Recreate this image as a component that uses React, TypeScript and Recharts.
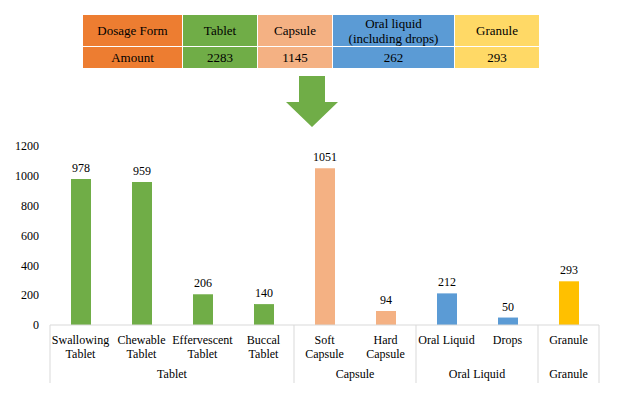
import { BarChart, Bar, XAxis, YAxis, Cell, LabelList } from "recharts";

const tableHeaders = ["Dosage Form", "Tablet", "Capsule", "Oral liquid\n(including drops)", "Granule"];
const tableAmounts = ["Amount", "2283", "1145", "262", "293"];
const tableColors = ["#ED7D31", "#70AD47", "#F4B183", "#5B9BD5", "#FFD966"];

const categories = [
  "Swallowing\nTablet",
  "Chewable\nTablet",
  "Effervescent\nTablet",
  "Buccal\nTablet",
  "Soft\nCapsule",
  "Hard\nCapsule",
  "Oral Liquid",
  "Drops",
  "Granule",
];
const counts = [978, 959, 206, 140, 1051, 94, 212, 50, 293];
const groups = ["Tablet", "Tablet", "Tablet", "Tablet", "Capsule", "Capsule", "Oral Liquid", "Oral Liquid", "Granule"];
const groupColors: Record<string, string> = {
  Tablet: "#70AD47",
  Capsule: "#F4B183",
  "Oral Liquid": "#5B9BD5",
  Granule: "#FFC000",
};
const yTicks = [0, 200, 400, 600, 800, 1000, 1200];

const data = categories.map((name, i) => ({ name, value: counts[i], group: groups[i] }));

const W = 618;
const H = 398;
const X_H = 73;
const Y_W = 50;
const M = { top: 146, right: 19, bottom: 0, left: 0 };
const BAND = (W - M.left - M.right - Y_W) / categories.length;
const FONT = "Liberation Serif";
const GRID = "#d9d9d9";

// table column edges in px
const colEdges = [83, 183, 258, 333, 455, 540];

function CategoryTick(props: any) {
  const { x, y, payload } = props;
  const i = payload.index;
  const lines = String(payload.value).split("\n");
  const g = groups[i];
  const isFirst = i === 0 || groups[i - 1] !== g;
  const isLast = i === groups.length - 1;
  let span = 0;
  if (isFirst) {
    while (groups[i + span] === g) span++;
  }
  return (
    <g>
      {lines.map((t, k) => (
        <text key={k} x={x} y={y + 19 + k * 14} textAnchor="middle" fontSize={12} fontFamily={FONT} fill="#000">
          {t}
        </text>
      ))}
      {isFirst && (
        <>
          <line x1={x - BAND / 2} x2={x - BAND / 2} y1={y} y2={y + 58} stroke={GRID} />
          <text
            x={x + ((span - 1) * BAND) / 2}
            y={y + 53}
            textAnchor="middle"
            fontSize={12}
            fontFamily={FONT}
            fill="#000"
          >
            {g}
          </text>
        </>
      )}
      {isLast && <line x1={x + BAND / 2} x2={x + BAND / 2} y1={y} y2={y + 58} stroke={GRID} />}
    </g>
  );
}

export default function App() {
  return (
    <div style={{ position: "absolute", left: 0, top: 0, width: W, height: H, background: "#fff" }}>
      <BarChart width={W} height={H} data={data} margin={M}>
        <YAxis
          width={Y_W}
          domain={[0, 1200]}
          ticks={yTicks}
          interval={0}
          axisLine={false}
          tickLine={false}
          tickSize={0}
          tickMargin={11}
          tick={{ fontSize: 12, fill: "#000", fontFamily: FONT }}
        />
        <XAxis
          dataKey="name"
          interval={0}
          height={X_H}
          tickLine={false}
          tickSize={0}
          tickMargin={0}
          axisLine={{ stroke: GRID }}
          tick={<CategoryTick />}
        />
        <Bar dataKey="value" barSize={20} isAnimationActive={false}>
          {data.map((d, i) => (
            <Cell key={i} fill={groupColors[d.group]} />
          ))}
          <LabelList
            dataKey="value"
            position="top"
            offset={7}
            fontSize={12}
            fill="#000"
            fontFamily={FONT}
            style={{ fill: "#000" }}
          />
        </Bar>
      </BarChart>

      {tableHeaders.map((h, i) => (
        <div key={"h" + i}>
          <div
            style={{
              position: "absolute",
              left: colEdges[i],
              top: 15,
              width: colEdges[i + 1] - colEdges[i] - 1,
              height: 31,
              background: tableColors[i],
              display: "flex",
              alignItems: "center",
              justifyContent: "center",
              textAlign: "center",
              whiteSpace: "pre",
              fontFamily: FONT,
              fontSize: 13,
              lineHeight: "15px",
              color: "#000",
            }}
          >
            {h}
          </div>
          <div
            style={{
              position: "absolute",
              left: colEdges[i],
              top: 47,
              width: colEdges[i + 1] - colEdges[i] - 1,
              height: 21,
              background: tableColors[i],
              display: "flex",
              alignItems: "center",
              justifyContent: "center",
              fontFamily: FONT,
              fontSize: 13,
              color: "#000",
            }}
          >
            {tableAmounts[i]}
          </div>
        </div>
      ))}

      <svg style={{ position: "absolute", left: 0, top: 0 }} width={W} height={140}>
        <polygon points="299,76 325,76 325,102 338,102 312,127 286,102 299,102" fill="#70AD47" />
      </svg>
    </div>
  );
}
